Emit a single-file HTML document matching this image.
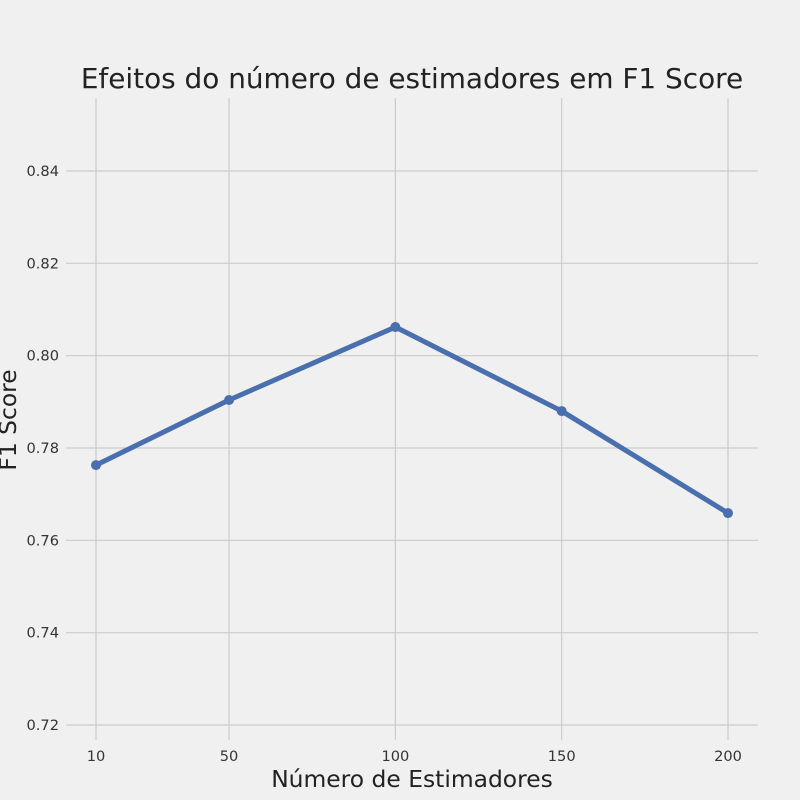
<!DOCTYPE html>
<html><head><meta charset="utf-8"><style>
html,body{margin:0;padding:0;background:#f0f0f0;overflow:hidden;width:800px;height:800px;}
svg{display:block;}
svg text{font-family:"DejaVu Sans","Liberation Sans",sans-serif;}
</style></head><body>
<svg id="chart" width="800" height="800" xmlns="http://www.w3.org/2000/svg">
<rect width="800" height="800" fill="#f0f0f0"/>
<text x="412" y="88" font-size="27.9" fill="#222" text-anchor="middle">Efeitos do número de estimadores em F1 Score</text>
<text x="412" y="787" font-size="23.4" fill="#222" text-anchor="middle">Número de Estimadores</text>
<text transform="translate(16,420) rotate(-90)" font-size="23.4" fill="#222" text-anchor="middle">F1 Score</text>
<g id="grid"></g><g id="ticks"></g><g id="series"></g>
</svg>
<script>
const categories=[10,50,100,150,200];
const f1Values=[0.7763,0.7904,0.8062,0.7880,0.7659];
const yTicks=[0.72,0.74,0.76,0.78,0.80,0.82,0.84];
const xScale=v=>96+(v-10)*(632/190);
const yScale=v=>171+(0.84-v)*(554/0.12);
const NS="http://www.w3.org/2000/svg";
const grid=document.getElementById('grid'),ticks=document.getElementById('ticks'),series=document.getElementById('series');
function mk(tag,attrs,parent){const e=document.createElementNS(NS,tag);for(const k in attrs)e.setAttribute(k,attrs[k]);parent.appendChild(e);return e;}
yTicks.forEach(t=>{
  const y=yScale(t);
  const l=mk('line',{x1:66,x2:758,y1:y,y2:y,stroke:'#cbcbcb','stroke-width':1.2},grid);
  
  
  const tx=mk('text',{x:59,y:y+5,'font-size':14.6,fill:'#333','text-anchor':'end'},ticks);
  tx.textContent=t.toFixed(2);
  
  
});
categories.forEach(c=>{
  const x=xScale(c);
  const l=mk('line',{x1:x,x2:x,y1:98,y2:740,stroke:'#cbcbcb','stroke-width':1.2},grid);
  
  
  const tx=mk('text',{x:x,y:761,'font-size':14.6,fill:'#333','text-anchor':'middle'},ticks);
  tx.textContent=c;
  
  
});
const pts=categories.map((c,i)=>xScale(c)+','+yScale(f1Values[i])).join(' ');
const pl=mk('polyline',{points:pts,fill:'none',stroke:'#4a6fae','stroke-width':5,'stroke-linejoin':'round'},series);


categories.forEach((c,i)=>{
  const p=mk('circle',{cx:xScale(c),cy:yScale(f1Values[i]),r:5,fill:'#4a6fae'},series);
  
  
});
</script>
</body></html>
